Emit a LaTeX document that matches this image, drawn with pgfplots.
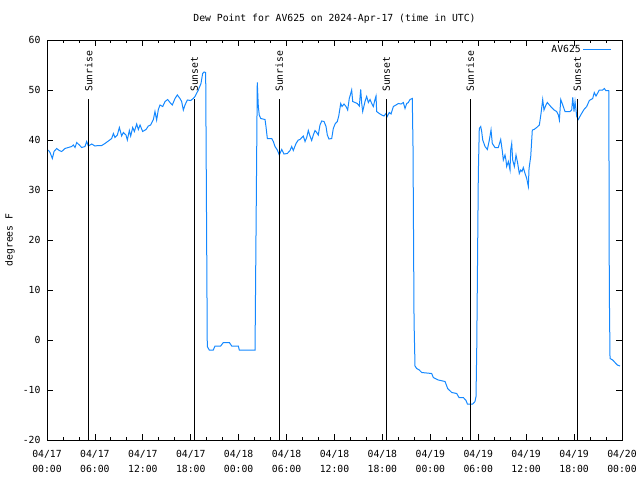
\documentclass[border=0pt]{standalone}
\usepackage{pgfplots}
\pgfplotsset{compat=1.18}
\usepackage{fontspec}
\setmainfont{DejaVu Sans Mono}
\definecolor{dew}{RGB}{20,136,255}
\newcommand\fs{\fontsize{9.8}{14.5}\selectfont}
\begin{document}
\begin{tikzpicture}
\useasboundingbox (0,0) rectangle (640bp,480bp);
\begin{axis}[
  at={(47bp,40bp)}, anchor=south west,
  scale only axis, width=575bp, height=400bp,
  xmin=0, xmax=72, ymin=-20, ymax=60,
  xtick={0,6,...,72}, minor x tick num=2,
  xticklabels={{04/17\\00:00},{04/17\\06:00},{04/17\\12:00},{04/17\\18:00},{04/18\\00:00},{04/18\\06:00},{04/18\\12:00},{04/18\\18:00},{04/19\\00:00},{04/19\\06:00},{04/19\\12:00},{04/19\\18:00},{04/20\\00:00}},
  ytick={-20,-10,...,60},
  /pgf/number format/assume math mode=true,
  xticklabel style={font=\fs, align=center, yshift=-7bp},
  yticklabel style={font=\fs, xshift=-3bp},
  major tick length=6bp, minor tick length=3bp,
  tick style={black, line width=0.8bp},
  axis line style={black, line width=1bp},
  title={Dew Point for AV625 on 2024-Apr-17 (time in UTC)},
  title style={font=\fs, at={(axis description cs:0.5,1)}, anchor=south, yshift=7bp},
  ylabel={degrees F},
  ylabel style={font=\fs, at={(axis description cs:-0.0643,0.5)}, anchor=center},
  legend entries={AV625},
  legend style={draw=none, fill=none, at={(1,1)}, anchor=north east, xshift=-7bp, yshift=-1bp, font=\fs},
  legend plot pos=right,
  legend image code/.code={\draw[#1] (4bp,0bp) -- (32bp,0bp);},
]
\addplot[dew, line width=1bp] coordinates {
(0.16,38.0) (0.38,37.5) (0.67,36.3) (0.88,37.7) (1.21,38.3) (1.54,37.9) (1.84,37.7) (2.25,38.3) (2.67,38.5) (3.09,38.7) (3.30,39.0) (3.51,38.5) (3.72,39.5) (4.05,39.0) (4.34,38.5) (4.76,38.7) (4.97,39.7) (5.18,38.8) (5.60,39.2) (6.01,38.8) (6.43,38.9) (6.85,38.9) (7.26,39.3) (7.68,39.8) (8.10,40.3) (8.31,41.3) (8.51,40.5) (8.81,41.0) (9.06,42.5) (9.35,40.8) (9.56,41.5) (9.89,41.0) (10.06,40.0) (10.31,41.9) (10.48,40.8) (10.73,42.5) (10.94,41.7) (11.23,43.2) (11.44,42.1) (11.65,43.0) (11.98,41.7) (12.40,42.1) (12.69,42.8) (12.98,43.0) (13.32,44.1) (13.52,45.7) (13.73,44.0) (13.94,46.1) (14.15,47.0) (14.49,46.7) (14.78,47.7) (15.11,48.1) (15.40,47.5) (15.69,47.0) (16.03,48.3) (16.32,49.0) (16.65,48.3) (16.86,47.7) (17.07,46.0) (17.28,47.0) (17.57,48.0) (17.99,47.9) (18.32,48.3) (18.53,48.7) (18.95,50.0) (19.28,51.3) (19.49,53.3) (19.66,53.6) (19.87,53.5)
(20.07,-1.3) (20.32,-2.0) (20.82,-2.0) (21.04,-1.2) (21.75,-1.2) (22.08,-0.5) (22.83,-0.5) (23.13,-1.2) (23.96,-1.2) (24.08,-2.0) (26.05,-2.0)
(26.26,38.0) (26.33,51.5) (26.46,46.7) (26.58,45.0) (26.76,44.3) (27.30,44.1) (27.42,42.7) (27.59,40.3) (28.14,40.3) (28.34,39.7) (28.55,38.7) (28.84,38.0) (29.09,37.0) (29.39,38.1) (29.68,37.2) (30.09,37.3) (30.43,37.9) (30.64,38.7) (30.84,37.9) (31.18,39.3) (31.47,40.0) (31.68,40.1) (32.09,40.8) (32.31,39.7) (32.52,40.5) (32.72,41.9) (32.93,40.8) (33.14,39.9) (33.35,41.0) (33.56,41.9) (33.77,41.5) (33.97,41.0) (34.18,43.0) (34.40,43.8) (34.69,43.7) (34.94,42.7) (35.10,41.0) (35.31,40.2) (35.65,40.3) (35.85,42.3) (36.10,43.3) (36.35,43.7) (36.53,44.8) (36.78,47.3) (36.94,46.7) (37.19,47.2) (37.44,46.7) (37.65,46.0) (37.85,48.3) (37.98,49.0) (38.15,50.0) (38.28,47.7) (38.57,47.5) (38.86,47.3) (39.11,46.8) (39.28,50.1) (39.41,47.3) (39.53,45.7) (39.82,47.7) (40.03,48.7) (40.24,47.5) (40.45,48.1) (40.66,47.3) (40.86,46.7) (41.07,48.1) (41.20,48.8) (41.28,45.7) (41.61,45.3) (41.91,45.0) (42.20,44.8) (42.45,45.3) (42.61,44.7) (42.86,45.5) (43.08,45.2) (43.37,46.7) (43.70,47.0) (43.99,47.3) (44.33,47.2) (44.62,47.5) (44.83,46.3) (45.04,47.3) (45.25,47.5) (45.45,48.1) (45.74,48.3)
(45.83,38.7) (45.96,3.7) (46.08,-5.2) (46.29,-5.7) (46.62,-6.0) (46.92,-6.5) (48.17,-6.7) (48.37,-7.5) (49.00,-8.0) (49.84,-8.3) (50.17,-9.7) (50.68,-10.5) (51.30,-10.7) (51.59,-11.5) (52.13,-11.5) (52.47,-12.1) (52.64,-12.8) (53.31,-12.8) (53.59,-12.3) (53.72,-11.3) (53.81,-1.9)
(54.01,33.3) (54.13,42.3) (54.31,42.7) (54.43,41.7) (54.56,40.0) (54.85,38.7) (55.14,38.1) (55.39,40.0) (55.60,42.0) (55.76,39.3) (56.10,38.5) (56.51,38.5) (56.81,40.1) (57.02,37.7) (57.14,36.0) (57.35,37.0) (57.47,36.0) (57.56,34.7) (57.77,35.7) (57.98,34.0) (58.06,38.0) (58.19,39.3) (58.31,36.0) (58.52,34.7) (58.73,37.0) (58.94,35.3) (59.14,33.3) (59.32,34.0) (59.48,33.7) (59.64,34.5) (59.86,33.3) (60.07,32.3) (60.27,30.7) (60.36,34.3) (60.57,36.7) (60.77,42.0) (60.98,42.1) (61.32,42.5) (61.65,43.0) (61.86,45.3) (62.07,48.1) (62.23,46.0) (62.48,47.0) (62.65,47.5) (63.07,46.7) (63.49,46.0) (63.82,45.7) (64.03,45.0) (64.16,44.0) (64.33,48.1) (64.58,47.0) (64.86,45.7) (65.49,45.7) (65.70,46.0) (65.83,48.5) (65.99,45.7) (66.12,47.7) (66.33,44.7) (66.53,44.1) (66.83,45.0) (67.24,46.1) (67.58,46.7) (67.91,47.9) (68.33,48.3) (68.53,49.5) (68.75,48.8) (69.16,50.0) (69.58,50.0) (69.79,50.3) (69.96,49.9) (70.34,49.9)
(70.37,36.7) (70.41,10.0) (70.50,-3.7) (70.83,-4.0) (71.12,-4.5) (71.41,-5.0) (71.75,-5.2)
};
\addplot[black, line width=1bp, forget plot] coordinates {(5.22,-20) (5.22,48.2)};
\addplot[black, line width=1bp, forget plot] coordinates {(18.45,-20) (18.45,48.2)};
\addplot[black, line width=1bp, forget plot] coordinates {(29.09,-20) (29.09,48.2)};
\addplot[black, line width=1bp, forget plot] coordinates {(42.49,-20) (42.49,48.2)};
\addplot[black, line width=1bp, forget plot] coordinates {(53.01,-20) (53.01,48.2)};
\addplot[black, line width=1bp, forget plot] coordinates {(66.40,-20) (66.40,48.2)};
\node[rotate=90, anchor=west, inner sep=0pt, font=\fs] at (axis cs:5.22,49.6) {Sunrise};
\node[rotate=90, anchor=west, inner sep=0pt, font=\fs] at (axis cs:18.45,49.6) {Sunset};
\node[rotate=90, anchor=west, inner sep=0pt, font=\fs] at (axis cs:29.09,49.6) {Sunrise};
\node[rotate=90, anchor=west, inner sep=0pt, font=\fs] at (axis cs:42.49,49.6) {Sunset};
\node[rotate=90, anchor=west, inner sep=0pt, font=\fs] at (axis cs:53.01,49.6) {Sunrise};
\node[rotate=90, anchor=west, inner sep=0pt, font=\fs] at (axis cs:66.40,49.6) {Sunset};
\end{axis}
\end{tikzpicture}
\end{document}
